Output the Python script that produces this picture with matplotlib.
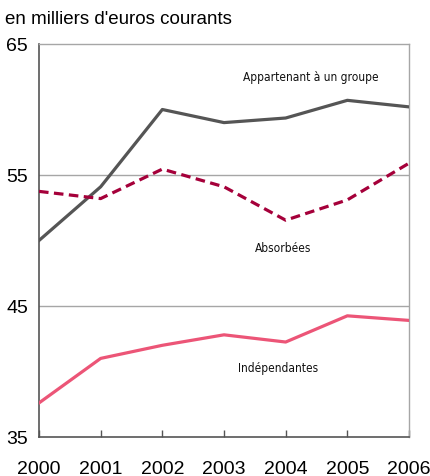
import matplotlib
matplotlib.use("Agg")
import matplotlib.pyplot as plt

# data
years = [2000, 2001, 2002, 2003, 2004, 2005, 2006]
groupe = [50.0, 54.1, 60.0, 59.0, 59.35, 60.7, 60.2]
absorbees = [53.75, 53.2, 55.45, 54.1, 51.55, 53.1, 55.9]
independantes = [37.6, 41.0, 42.0, 42.8, 42.25, 44.25, 43.9]
yticks = [35, 45, 55, 65]

plt.rcParams["font.family"] = ["Liberation Sans", "DejaVu Sans"]

fig = plt.figure(figsize=(4.31, 4.76), dpi=100)
ax = fig.add_axes([39 / 431, 39 / 476, 370 / 431, 393 / 476])

for y in [45, 55]:
    ax.axhline(y, color="#a6a6a6", lw=1.0, zorder=1)

ax.plot(years, groupe, color="#555555", lw=2.3, zorder=3)
ax.plot(years, absorbees, color="#a5003a", lw=2.3, ls=(0, (3.0, 1.7)), zorder=3)
ax.plot(years, independantes, color="#ec5577", lw=2.3, zorder=3)

ax.set_xlim(2000, 2006)
ax.set_ylim(35, 65)
ax.set_yticks(yticks)
ax.set_yticklabels([str(t) for t in yticks], fontsize=14)
ax.tick_params(axis="y", length=0, pad=8)
ax.set_xticks(years)
ax.set_xticklabels([str(y) for y in years], fontsize=14)
ax.tick_params(axis="x", length=5, width=1, color="#555555", direction="in", pad=17)

for s in ["left", "bottom"]:
    ax.spines[s].set_color("#555555")
    ax.spines[s].set_linewidth(1.2)
for s in ["top", "right"]:
    ax.spines[s].set_color("#a6a6a6")
    ax.spines[s].set_linewidth(1.0)

# series labels
lab = dict(fontsize=8.6, family="DejaVu Sans", stretch="condensed",
           ha="center", va="baseline", color="#111111")
ax.text(2004.4, 62.2, "Appartenant à un groupe", **lab)
ax.text(2003.96, 49.15, "Absorbées", **lab)
ax.text(2003.87, 39.98, "Indépendantes", **lab)

fig.text(5 / 431, 1 - 20 / 476, "en milliers d'euros courants", fontsize=13.5,
         ha="left", va="center")

fig.savefig("out.png", dpi=100)
